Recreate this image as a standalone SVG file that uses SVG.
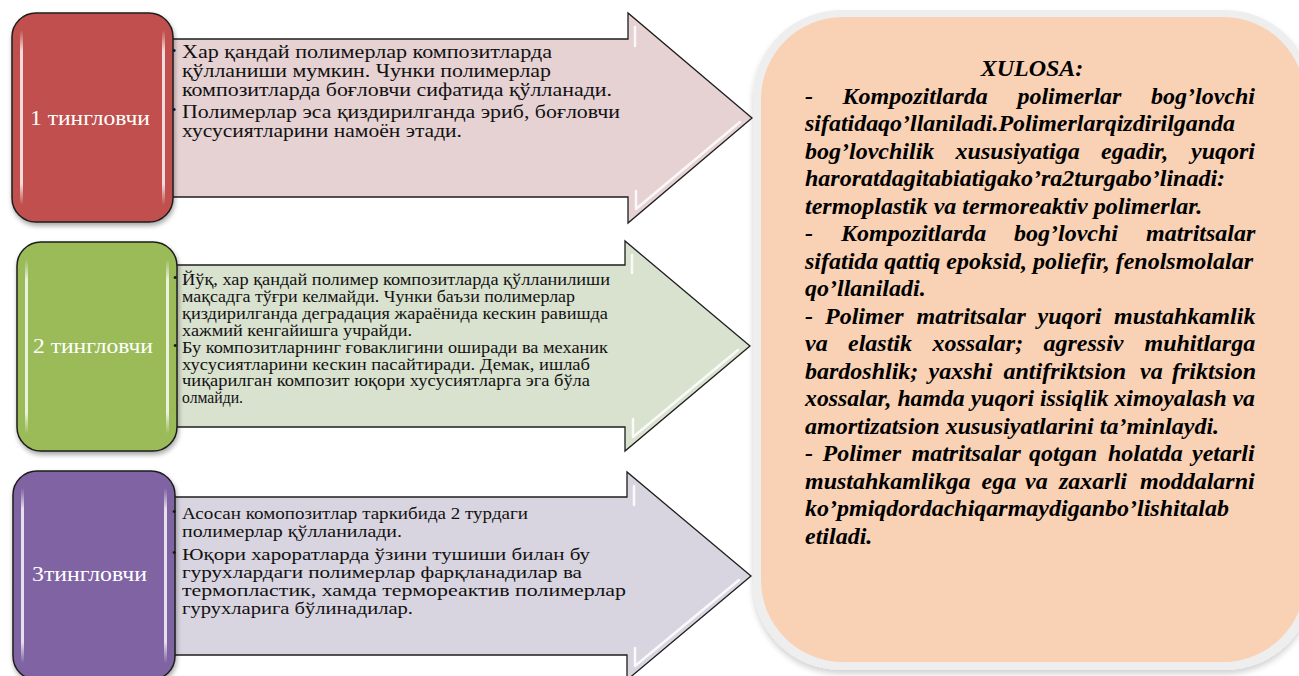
<svg xmlns="http://www.w3.org/2000/svg" width="1299" height="676" viewBox="0 0 1299 676">
<defs>
<filter id="sh" x="-10%" y="-10%" width="125%" height="125%">
<feGaussianBlur in="SourceAlpha" stdDeviation="2.5"/>
<feOffset dx="1" dy="3"/>
<feComponentTransfer><feFuncA type="linear" slope="0.35"/></feComponentTransfer>
<feMerge><feMergeNode/><feMergeNode in="SourceGraphic"/></feMerge>
</filter>
<filter id="psh" x="-5%" y="-5%" width="110%" height="110%">
<feGaussianBlur in="SourceAlpha" stdDeviation="3"/>
<feOffset dx="0" dy="4"/>
<feComponentTransfer><feFuncA type="linear" slope="0.18"/></feComponentTransfer>
<feMerge><feMergeNode/><feMergeNode in="SourceGraphic"/></feMerge>
</filter>
<linearGradient id="hl" x1="0" y1="0" x2="0" y2="1">
<stop offset="0" stop-color="#fff" stop-opacity="0"/>
<stop offset="0.12" stop-color="#fff" stop-opacity="0.8"/>
<stop offset="0.88" stop-color="#fff" stop-opacity="0.8"/>
<stop offset="1" stop-color="#fff" stop-opacity="0"/>
</linearGradient>
</defs>
<style>
.box{stroke:#1e1e1e;stroke-width:1.5}
.arrow{stroke:#1e1e1e;stroke-width:1.3}
.glint{fill:none;stroke:#fff;stroke-opacity:0.85;stroke-width:2.5;stroke-linecap:round;stroke-linejoin:round}
.lbl{font-family:"Liberation Serif","Times New Roman",serif;font-size:20px;fill:#fff}
.t1{font-family:"Liberation Serif","Times New Roman",serif;font-size:18px;fill:#111}
.t2{font-family:"Liberation Serif","Times New Roman",serif;font-size:16px;fill:#111}
.t3{font-family:"Liberation Serif","Times New Roman",serif;font-size:17.5px;fill:#111}
.bul{font-family:"Liberation Serif","Times New Roman",serif;font-size:12px;fill:#111}
.x{font-family:"Liberation Serif","Times New Roman",serif;font-size:24px;font-weight:bold;font-style:italic;fill:#000}
</style>

<g id="connectors">
<g id="arrow1">
<path class="arrow" d="M150,39 H628 V13 L752,118 L628,223 V197 H150 Z" fill="#E6D2D3"/>
<path class="glint" d="M635,27 V46"/>
<path class="glint" d="M740,122 L636,209 V191"/>
</g>
<g id="arrow2">
<path class="arrow" d="M150,265 H625 V241 L750,346 L625,451 V427 H150 Z" fill="#D9E1CF"/>
<path class="glint" d="M632,255 V273"/>
<path class="glint" d="M738,350 L633,437 V419"/>
</g>
<g id="arrow3">
<path class="arrow" d="M150,497 H627 V472 L751,576 L627,680 V655 H150 Z" fill="#D9D5E0"/>
<path class="glint" d="M634,486 V505"/>
<path class="glint" d="M739,580 L635,666 V648"/>
</g>
</g>

<g id="node1" filter="url(#sh)">
<rect class="box" x="12" y="13" width="161" height="209" rx="24" fill="#C0504D"/>
<rect x="20" y="30" width="3" height="175" rx="1.5" fill="url(#hl)"/>
<rect x="162" y="30" width="3" height="175" rx="1.5" fill="url(#hl)"/>
</g>
<text class="lbl" x="30" y="125" textLength="120" lengthAdjust="spacingAndGlyphs">1 тингловчи</text>

<g id="node2" filter="url(#sh)">
<rect class="box" x="17" y="242" width="160" height="209" rx="24" fill="#9BBB59"/>
<rect x="25" y="259" width="3" height="175" rx="1.5" fill="url(#hl)"/>
<rect x="166" y="259" width="3" height="175" rx="1.5" fill="url(#hl)"/>
</g>
<text class="lbl" x="33" y="353" textLength="120" lengthAdjust="spacingAndGlyphs">2 тингловчи</text>

<g id="node3" filter="url(#sh)">
<rect class="box" x="13" y="471" width="162" height="209" rx="24" fill="#8064A2"/>
<rect x="21" y="488" width="3" height="175" rx="1.5" fill="url(#hl)"/>
<rect x="164" y="488" width="3" height="175" rx="1.5" fill="url(#hl)"/>
</g>
<text class="lbl" x="32" y="581" textLength="115" lengthAdjust="spacingAndGlyphs">3тингловчи</text>

<g id="text1">
<text class="bul" x="172" y="55">•</text>
<text class="bul" x="172" y="114">•</text>
<text class="t1" x="182" y="58" textLength="370" lengthAdjust="spacingAndGlyphs">Хар қандай полимерлар композитларда</text>
<text class="t1" x="182" y="77" textLength="369" lengthAdjust="spacingAndGlyphs">қўлланиши мумкин. Чунки полимерлар</text>
<text class="t1" x="182" y="96" textLength="430" lengthAdjust="spacingAndGlyphs">композитларда боғловчи сифатида қўлланади.</text>
<text class="t1" x="182" y="117.5" textLength="438" lengthAdjust="spacingAndGlyphs">Полимерлар эса қиздирилганда эриб, боғловчи</text>
<text class="t1" x="182" y="136.5" textLength="280" lengthAdjust="spacingAndGlyphs">хусусиятларини намоён этади.</text>
</g>

<g id="text2">
<text class="bul" x="173" y="282">•</text>
<text class="bul" x="173" y="350">•</text>
<text class="t2" x="182" y="285" textLength="428" lengthAdjust="spacingAndGlyphs">Йўқ, хар қандай полимер композитларда қўлланилиши</text>
<text class="t2" x="182" y="302" textLength="393" lengthAdjust="spacingAndGlyphs">мақсадга тўғри келмайди. Чунки баъзи полимерлар</text>
<text class="t2" x="182" y="319" textLength="426" lengthAdjust="spacingAndGlyphs">қиздирилганда деградация жараёнида кескин равишда</text>
<text class="t2" x="182" y="335.5" textLength="230" lengthAdjust="spacingAndGlyphs">хажмий кенгайишга учрайди.</text>
<text class="t2" x="182" y="353" textLength="426" lengthAdjust="spacingAndGlyphs">Бу композитларнинг ғоваклигини оширади ва механик</text>
<text class="t2" x="182" y="369.5" textLength="408" lengthAdjust="spacingAndGlyphs">хусусиятларини кескин пасайтиради. Демак, ишлаб</text>
<text class="t2" x="182" y="386" textLength="408" lengthAdjust="spacingAndGlyphs">чиқарилган композит юқори хусусиятларга эга бўла</text>
<text class="t2" x="182" y="402.5" textLength="61" lengthAdjust="spacingAndGlyphs">олмайди.</text>
</g>

<g id="text3">
<text class="bul" x="172" y="516">•</text>
<text class="bul" x="172" y="557">•</text>
<text class="t3" x="182" y="519" textLength="346" lengthAdjust="spacingAndGlyphs">Асосан комопозитлар таркибида 2 турдаги</text>
<text class="t3" x="182" y="537" textLength="220" lengthAdjust="spacingAndGlyphs">полимерлар қўлланилади.</text>
<text class="t3" x="182" y="560" textLength="408" lengthAdjust="spacingAndGlyphs">Юқори хароратларда ўзини тушиши билан бу</text>
<text class="t3" x="182" y="578" textLength="400" lengthAdjust="spacingAndGlyphs">гурухлардаги полимерлар фарқланадилар ва</text>
<text class="t3" x="182" y="596" textLength="444" lengthAdjust="spacingAndGlyphs">термопластик, хамда термореактив полимерлар</text>
<text class="t3" x="182" y="614" textLength="231" lengthAdjust="spacingAndGlyphs">гурухларига бўлинадилар.</text>
</g>

<g id="xulosa">
<g filter="url(#psh)">
<rect x="753" y="10" width="560" height="660" rx="88" fill="#EEEEEE"/>
<rect x="761" y="17" width="544" height="645" rx="82" fill="#F9D1B4"/>
</g>
<text class="x" x="1032" y="76" text-anchor="middle">XULOSA:</text>
<text class="x" y="103.5"><tspan x="805">-</tspan><tspan x="842.5">Kompozitlarda</tspan><tspan x="1017.4">polimerlar</tspan><tspan x="1151">bog’lovchi</tspan></text>
<text class="x" x="805" y="131" textLength="430" lengthAdjust="spacingAndGlyphs">sifatidaqo’llaniladi.Polimerlarqizdirilganda</text>
<text class="x" y="158.5"><tspan x="805">bog’lovchilik</tspan><tspan x="955.6">xususiyatiga</tspan><tspan x="1101">egadir,</tspan><tspan x="1191">yuqori</tspan></text>
<text class="x" x="805" y="186">haroratdagitabiatigako’ra2turgabo’linadi:</text>
<text class="x" x="805" y="213.5">termoplastik va termoreaktiv polimerlar.</text>
<text class="x" y="241"><tspan x="805">-</tspan><tspan x="841">Kompozitlarda</tspan><tspan x="1014">bog’lovchi</tspan><tspan x="1146">matritsalar</tspan></text>
<text class="x" x="805" y="268.5">sifatida qattiq epoksid, poliefir, fenolsmolalar</text>
<text class="x" x="805" y="296">qo’llaniladi.</text>
<text class="x" y="323.5"><tspan x="805">-</tspan><tspan x="825">Polimer</tspan><tspan x="916.5">matritsalar</tspan><tspan x="1037.5">yuqori</tspan><tspan x="1114">mustahkamlik</tspan></text>
<text class="x" y="351"><tspan x="805">va</tspan><tspan x="848">elastik</tspan><tspan x="932.5">xossalar;</tspan><tspan x="1043.5">agressiv</tspan><tspan x="1144.5">muhitlarga</tspan></text>
<text class="x" y="378.5"><tspan x="805">bardoshlik;</tspan><tspan x="928.5">yaxshi</tspan><tspan x="1003.5">antifriktsion</tspan><tspan x="1140">va</tspan><tspan x="1172">friktsion</tspan></text>
<text class="x" x="805" y="406" textLength="450" lengthAdjust="spacingAndGlyphs">xossalar, hamda yuqori issiqlik ximoyalash va</text>
<text class="x" x="805" y="433.5">amortizatsion xususiyatlarini ta’minlaydi.</text>
<text class="x" y="461"><tspan x="805">-</tspan><tspan x="822.5">Polimer</tspan><tspan x="911.5">matritsalar</tspan><tspan x="1029">qotgan</tspan><tspan x="1108">holatda</tspan><tspan x="1192">yetarli</tspan></text>
<text class="x" y="488.5"><tspan x="805">mustahkamlikga</tspan><tspan x="981.5">ega</tspan><tspan x="1025">va</tspan><tspan x="1059">zaxarli</tspan><tspan x="1140">moddalarni</tspan></text>
<text class="x" x="805" y="516">ko’pmiqdordachiqarmaydiganbo’lishitalab</text>
<text class="x" x="805" y="543.5">etiladi.</text>
</g>
</svg>
